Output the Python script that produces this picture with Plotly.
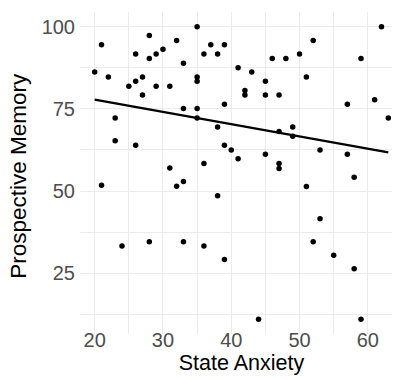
import numpy as np
import plotly.graph_objects as go

state_anxiety = [20, 21, 22, 25, 26, 26, 27, 27, 28, 28, 29, 29, 30, 31, 32, 33, 33, 35, 35, 35, 35, 35, 36,
                 23, 23, 26, 21, 31, 32, 33, 36,
                 24, 28, 33, 36,
                 37, 39, 38, 41, 43, 45, 42, 42, 45, 47, 39, 46, 48, 50, 52, 51, 62, 59, 61, 57, 63,
                 38, 49, 47, 49, 39, 40, 41, 45, 47, 47, 53, 57, 58, 51, 38,
                 53, 52, 55, 58, 39, 44, 59]
prospective_memory = [86.2, 94.5, 84.7, 81.9, 83.4, 91.7, 84.7, 79.2, 97.3, 90.3, 91.7, 81.9, 93.1, 81.9, 95.8, 88.9, 75.1, 100, 84.7, 83.4, 75.1, 72.2, 91.7,
                      72.2, 65.3, 63.9, 51.8, 57.0, 51.5, 52.9, 58.4,
                      33.3, 34.6, 34.6, 33.3,
                      94.5, 94.5, 91.7, 87.5, 86.2, 83.4, 80.6, 79.2, 79.2, 79.2, 76.4, 90.3, 90.3, 91.7, 95.8, 84.7, 100, 90.3, 77.8, 76.4, 72.2,
                      69.5, 69.5, 68.1, 66.7, 63.9, 62.5, 59.8, 61.2, 58.4, 56.9, 62.5, 61.2, 54.2, 51.4, 48.6,
                      41.6, 34.6, 30.5, 26.4, 29.2, 11.0, 11.0]

x_ticks = [20, 30, 40, 50, 60]
y_ticks = [25, 50, 75, 100]
x_title = "State Anxiety"
y_title = "Prospective Memory"

slope, intercept = np.polyfit(state_anxiety, prospective_memory, 1)
fit_x = np.array([min(state_anxiety), max(state_anxiety)])
fit_y = intercept + slope * fit_x

fig = go.Figure()
fig.add_trace(go.Scatter(x=state_anxiety, y=prospective_memory, mode="markers",
                         marker=dict(color="black", size=5.5), showlegend=False))
fig.add_trace(go.Scatter(x=fit_x, y=fit_y, mode="lines",
                         line=dict(color="black", width=2.2), showlegend=False))

grid = "#EBEBEB"
fig.update_layout(
    width=400, height=380,
    margin=dict(l=72, r=5, t=4, b=54),
    plot_bgcolor="white", paper_bgcolor="white",
    font=dict(family="Liberation Sans, Arial, sans-serif", size=20, color="#4D4D4D"),
    xaxis=dict(range=[17.85, 65.15], tickvals=x_ticks, showgrid=True, gridcolor=grid, gridwidth=1.2,
               zeroline=False, showline=False, ticks="", ticklabelstandoff=-8, automargin=False,
               minor=dict(tickvals=[25, 35, 45, 55, 65], showgrid=True, gridcolor=grid, gridwidth=0.6),
               title=dict(text=x_title, font=dict(color="black", size=21.5), standoff=2)),
    yaxis=dict(range=[6.55, 104.45], tickvals=y_ticks, showgrid=True, gridcolor=grid, gridwidth=1.2,
               zeroline=False, showline=False, ticks="", ticklabelstandoff=4, automargin=False,
               minor=dict(tickvals=[12.5, 37.5, 62.5, 87.5], showgrid=True, gridcolor=grid, gridwidth=0.6)),
    annotations=[dict(text=y_title, xref="paper", yref="paper", x=-0.19, y=0.49,
                      xanchor="center", yanchor="middle", textangle=-90, showarrow=False,
                      font=dict(color="black", size=22.5))],
)
fig.write_html("out.html")
